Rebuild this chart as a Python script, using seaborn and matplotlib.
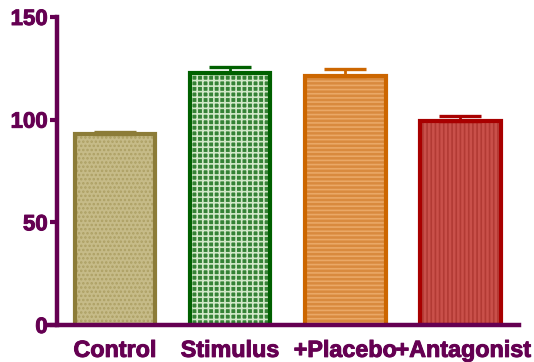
import matplotlib
matplotlib.use("Agg")
import matplotlib.pyplot as plt
import matplotlib.patheffects as pe
import matplotlib.transforms as mtransforms
from matplotlib.patches import Rectangle
import seaborn as sns
import pandas as pd

# Group means and upper SEM
groups = ["Control", "Stimulus", "+Placebo", "+Antagonist"]
means = [93.0, 122.5, 121.5, 99.5]
sems = [1.0, 3.0, 3.0, 2.3]
yticks = [0, 50, 100, 150]

# Fill, hatch and outline styles per group
fills = ["#c6bb88", "#358235", "#d98a3e", "#c9504a"]
hatch_colors = ["#ada064", "#d2e8c8", "#eaa866", "#b23a34"]
hatches = ["....", "+++", "----", "||||"]
edges = ["#8c7c38", "#006000", "#cc6600", "#a80000"]
axis_color = "#650052"

sns.set_theme(style="white")
plt.rcParams["font.family"] = ["Liberation Sans", "DejaVu Sans"]
plt.rcParams["font.weight"] = "bold"
plt.rcParams["hatch.linewidth"] = 1.2

df = pd.DataFrame({"group": groups, "value": means})

fig = plt.figure(figsize=(5.34, 3.62), dpi=100)
ax = fig.add_axes([48 / 534, 37 / 362, (519 - 48) / 534, 308 / 362])

sns.barplot(data=df, x="group", y="value", order=groups, width=0.70,
            errorbar=None, ax=ax, zorder=2)

for patch, fc, hc, h, ec in zip(ax.patches, fills, hatch_colors, hatches, edges):
    patch.set_facecolor(fc)
    patch.set_edgecolor(hc)
    patch.set_hatch(h)
    patch.set_linewidth(0)
    outline = Rectangle((patch.get_x(), patch.get_y()), patch.get_width(),
                        patch.get_height(), fill=False, edgecolor=ec,
                        linewidth=3.0, zorder=3, joinstyle="miter")
    ax.add_patch(outline)

for i, (m, s, ec) in enumerate(zip(means, sems, edges)):
    ax.errorbar(i, m, yerr=[[0], [s]], color=ec, elinewidth=2.0,
                capsize=14.8, capthick=2.4, zorder=4, fmt="none")

ax.set_xlim(-0.582, 3.508)
ax.set_ylim(0, 150)
ax.set_yticks(yticks)
ax.set_xlabel("")
ax.set_ylabel("")

for side in ("top", "right"):
    ax.spines[side].set_visible(False)
for side in ("left", "bottom"):
    ax.spines[side].set_color(axis_color)
    ax.spines[side].set_linewidth(3.2)
    ax.spines[side].set_zorder(5)
ax.spines["left"].set_position(("data", -0.5))
ax.spines["left"].set_bounds(0, 150)

ax.tick_params(axis="y", direction="out", length=5, width=3,
               color=axis_color, labelcolor=axis_color, labelsize=16, pad=2,
               left=True)
ax.tick_params(axis="x", length=0, labelcolor=axis_color, labelsize=16.8, pad=10)
heavy = [pe.withStroke(linewidth=0.7, foreground=axis_color)]
for lab in ax.get_xticklabels() + ax.get_yticklabels():
    lab.set_fontweight("bold")
    lab.set_path_effects(heavy)

# The long last label sits a little to the right of its bar
last = ax.get_xticklabels()[-1]
last.set_transform(last.get_transform() +
                   mtransforms.ScaledTranslation(3 / 100, 0, fig.dpi_scale_trans))

fig.savefig("out.png", dpi=100)
